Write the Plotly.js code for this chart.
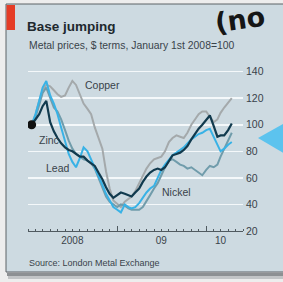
<!DOCTYPE html>
<html>
<head>
<meta charset="utf-8">
<script src="https://cdn.plot.ly/plotly-3.0.1.min.js"></script>
<style>
html,body{margin:0;padding:0;background:#ededed;}
#chart{width:283px;height:282px;}
</style>
</head>
<body>
<div id="chart"></div>
<script>
// Semi-monthly observation dates
var dates = ['2008-01-16','2008-02-01','2008-02-16','2008-03-01','2008-03-16','2008-04-01','2008-04-16','2008-05-01','2008-05-16','2008-06-01','2008-06-16','2008-07-01','2008-07-16','2008-08-01','2008-08-16','2008-09-01','2008-09-16','2008-10-01','2008-10-16','2008-11-01','2008-11-16','2008-12-01','2008-12-16','2009-01-01','2009-01-16','2009-02-01','2009-02-16','2009-03-01','2009-03-16','2009-04-01','2009-04-16','2009-05-01','2009-05-16','2009-06-01','2009-06-16','2009-07-01','2009-07-16','2009-08-01','2009-08-16','2009-09-01','2009-09-16','2009-10-01','2009-10-16','2009-11-01','2009-11-16','2009-12-01','2009-12-16','2010-01-01','2010-01-16','2010-02-01','2010-02-16','2010-03-01','2010-03-16','2010-04-01','2010-04-16'];

var copper = [100,108,118,126,130,129,126,123,121,122,128,133,130,122,116,112,108,98,90,82,65,52,43,40,38,42,44,46,50,56,62,67,71,74,75,76,80,87,90,92,91,90,94,100,104,108,110,110,106,102,104,109,113,117,120];
var nickel = [100,106,115,124,128,120,113,110,104,96,88,82,78,76,74,73,71,67,60,52,46,42,40,38,40,39,37,36,36,36,38,43,47,52,56,62,68,73,74,72,70,69,67,68,66,64,62,66,69,68,70,76,82,88,94];
var lead   = [100,108,118,128,133,122,116,108,98,88,78,72,68,75,83,80,74,68,62,55,48,43,38,36,34,40,38,37,38,41,45,49,52,54,60,66,70,74,77,79,81,83,86,89,91,93,94,96,97,91,85,80,82,85,87];
var zinc   = [100,104,108,114,118,102,95,90,86,83,81,80,78,76,76,73,71,69,64,59,53,48,45,47,49,48,47,46,49,52,57,61,64,66,67,66,68,73,77,78,79,81,84,89,93,97,100,104,107,99,91,92,92,96,101];

var yTicks = [20,40,60,80,100,120,140];
var yTickText = ['20','40','60','80','100','120','140'];
var yearLabelPos = ['2008-07-01','2009-07-01','2010-03-01'];
var yearLabels = ['2008','09','10'];
var yearStarts = ['2008-01-01','2009-01-01','2010-01-01'];

var seriesNames = ['Copper','Nickel','Lead','Zinc'];
var seriesData = [copper, nickel, lead, zinc];
var seriesColors = ['#a4a9ab','#709cab','#38b2e6','#113a4e'];
var seriesWidths = [2, 2, 2, 2.2];

var FONT = 'Liberation Sans, Arial, sans-serif';
var TXT = '#39434a';

var traces = seriesData.map(function(d,i){
  return {x: dates, y: d, type:'scatter', mode:'lines', name: seriesNames[i],
          line:{color: seriesColors[i], width: seriesWidths[i]}, hoverinfo:'skip', xaxis:'x', yaxis:'y'};
});
traces.push({x:[dates[0]], y:[zinc[0]], type:'scatter', mode:'markers',
  marker:{color:'#111', size:9}, hoverinfo:'skip', xaxis:'x', yaxis:'y'});
// overlay axis only for year-boundary tick marks
traces.push({x:[yearStarts[0]], y:[null], type:'scatter', mode:'lines', xaxis:'x2', yaxis:'y', hoverinfo:'skip', showlegend:false});

// pixel helpers for paper coords (plot area: x 28..243, y 65..231)
function px(x){ return (x-28)/215; }
function py(y){ return (231-y)/166; }

var layout = {
  width:283, height:282,
  margin:{l:28, r:40, t:65, b:51, pad:0},
  paper_bgcolor:'#ededed',
  plot_bgcolor:'rgba(0,0,0,0)',
  showlegend:false,
  title:{text:'<b>Base jumping</b>', xref:'container', yref:'container',
         x:27/283, xanchor:'left', y:1-26/282, yanchor:'middle',
         font:{family:FONT, size:13.5, color:'#20282d'}},
  xaxis:{type:'date', range:['2008-01-01','2010-06-01'], showgrid:false, zeroline:false,
         tickmode:'array', tickvals:yearLabelPos, ticktext:yearLabels, ticks:'',
         tickfont:{family:FONT, size:10, color:TXT},
         showline:true, linecolor:'#505a60', linewidth:1,
         minor:{dtick:'M1', tick0:'2008-01-01', ticks:'inside', ticklen:2, tickcolor:'#505a60', tickwidth:1, showgrid:false}},
  xaxis2:{type:'date', range:['2008-01-01','2010-06-01'], overlaying:'x', anchor:'y', side:'bottom',
          tickmode:'array', tickvals:yearStarts, ticks:'inside', ticklen:5, tickcolor:'#505a60',
          showticklabels:false, showgrid:false, zeroline:false, showline:false},
  yaxis:{range:[20,145], side:'right', tickmode:'array', tickvals:yTicks, ticktext:yTickText,
         ticks:'', showgrid:true, gridcolor:'#f4f8fa', gridwidth:1.5, zeroline:false,
         tickfont:{family:FONT, size:10.5, color:TXT}, ticklabelstandoff:2},
  shapes:[
    // panel
    {type:'rect', xref:'paper', yref:'paper', x0:px(6), x1:px(290), y0:py(272), y1:py(4),
     fillcolor:'#cddae1', line:{color:'#5d6266', width:1}, layer:'below'},
    // shadow under panel
    {type:'rect', xref:'paper', yref:'paper', x0:px(7), x1:px(290), y0:py(276), y1:py(272.5),
     fillcolor:'#8d9093', line:{width:0}, layer:'below'},
    {type:'rect', xref:'paper', yref:'paper', x0:px(8), x1:px(290), y0:py(279), y1:py(276),
     fillcolor:'#c2c4c6', line:{width:0}, layer:'below'},
    // red tag
    {type:'rect', xref:'paper', yref:'paper', x0:px(6.5), x1:px(15), y0:py(30), y1:py(5),
     fillcolor:'#e53c26', line:{width:0}, layer:'below'},
    // red index line at 100
    {type:'line', xref:'paper', yref:'y', x0:0, x1:1, y0:100, y1:100,
     line:{color:'#e05a66', width:1.2}, layer:'between'},
    // blue pointer from the page
    {type:'path', xref:'paper', yref:'paper',
     path:'M '+px(258)+' '+py(138)+' L '+px(290)+' '+py(120)+' L '+px(290)+' '+py(157)+' Z',
     fillcolor:'#5cc3ee', line:{width:0}, layer:'above'}
  ],
  annotations:[
    {text:'Metal prices, $ terms, January 1st 2008=100', xref:'paper', yref:'paper',
     x:px(27), y:py(45), xanchor:'left', yanchor:'middle', showarrow:false,
     font:{family:FONT, size:10.4, color:TXT}},
    {text:'Source: London Metal Exchange', xref:'paper', yref:'paper',
     x:px(27), y:py(263), xanchor:'left', yanchor:'middle', showarrow:false,
     font:{family:FONT, size:9, color:TXT}},
    {text:'Copper', xref:'x', yref:'y', x:'2008-08-13', y:130, xanchor:'left', yanchor:'middle', showarrow:false,
     font:{family:FONT, size:10.5, color:TXT}},
    {text:'Zinc', xref:'x', yref:'y', x:'2008-02-06', y:88.5, xanchor:'left', yanchor:'middle', showarrow:false,
     font:{family:FONT, size:10.5, color:TXT}},
    {text:'Lead', xref:'x', yref:'y', x:'2008-03-05', y:67.4, xanchor:'left', yanchor:'middle', showarrow:false,
     font:{family:FONT, size:10.5, color:TXT}},
    {text:'Nickel', xref:'x', yref:'y', x:'2009-06-24', y:49.4, xanchor:'left', yanchor:'middle', showarrow:false,
     font:{family:FONT, size:10.5, color:TXT}},
    {text:'<b>(no</b>', xref:'paper', yref:'paper', x:px(240), y:py(20), xanchor:'center', yanchor:'middle',
     showarrow:false, textangle:-8, borderpad:0, font:{family:'DejaVu Sans, sans-serif', size:27, color:'#161616'}}
  ]
};

Plotly.newPlot('chart', traces, layout, {staticPlot:true, displayModeBar:false});
</script>
</body>
</html>
